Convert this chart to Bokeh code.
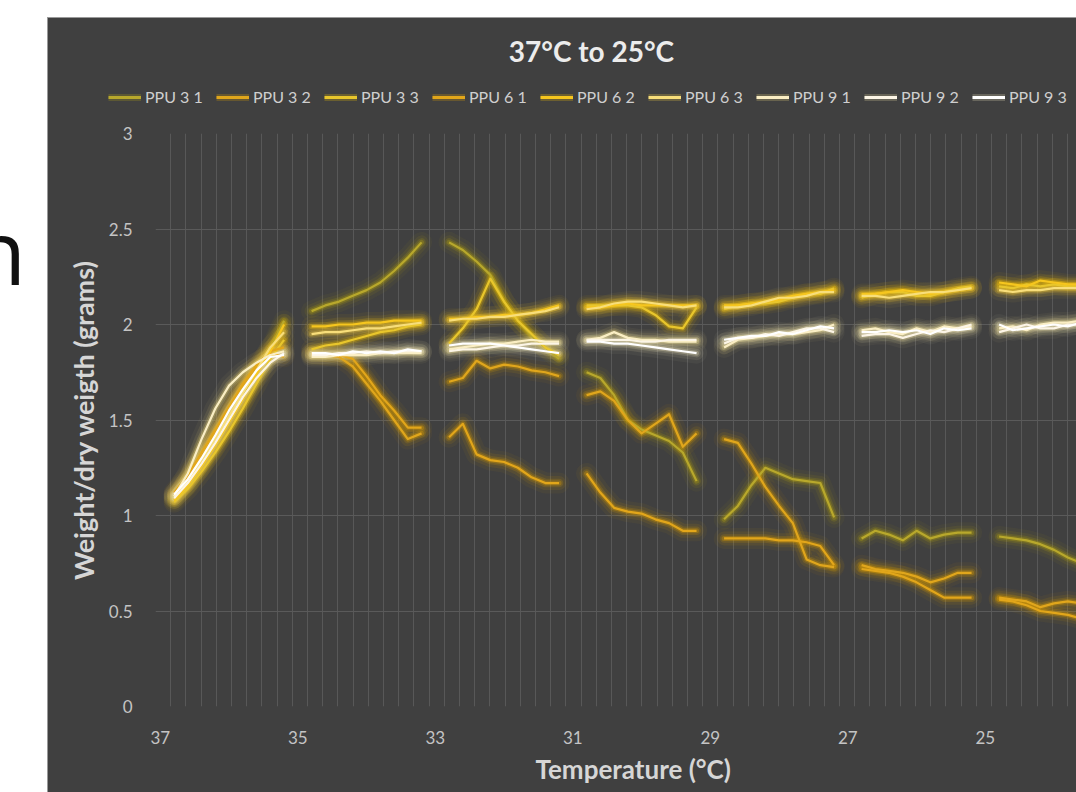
import numpy as np
from bokeh.plotting import figure
from bokeh.models import (Range1d, FixedTicker, NumeralTickFormatter, Legend, LegendItem,
                          Label, Title, Spacer, Div)
from bokeh.layouts import column, row
from bokeh.embed import file_html
from bokeh.resources import INLINE

nan = float("nan")

# ---------------- data ----------------
temp_segments = [
    [36.8, 36.6, 36.4, 36.2, 36.0, 35.8, 35.6, 35.4, 35.2],
    [34.8, 34.6, 34.4, 34.2, 34.0, 33.8, 33.6, 33.4, 33.2],
    [32.8, 32.6, 32.4, 32.2, 32.0, 31.8, 31.6, 31.4, 31.2],
    [30.8, 30.6, 30.4, 30.2, 30.0, 29.8, 29.6, 29.4, 29.2],
    [28.8, 28.6, 28.4, 28.2, 28.0, 27.8, 27.6, 27.4, 27.2],
    [26.8, 26.6, 26.4, 26.2, 26.0, 25.8, 25.6, 25.4, 25.2],
    [24.8, 24.6, 24.4, 24.2, 24.0, 23.8, 23.6],
]

ppu_3_1 = [
    [1.09, 1.17, 1.28, 1.39, 1.51, 1.63, 1.75, 1.87, 2.02],
    [2.07, 2.10, 2.12, 2.15, 2.18, 2.22, 2.28, 2.35, 2.43],
    [2.43, 2.39, 2.33, 2.26, 2.12, 2.02, 1.94, 1.88, 1.82],
    [1.75, 1.72, 1.63, 1.50, 1.45, 1.42, 1.39, 1.33, 1.18],
    [0.98, 1.05, 1.16, 1.25, 1.22, 1.19, 1.18, 1.17, 0.99],
    [0.88, 0.92, 0.90, 0.87, 0.92, 0.88, 0.90, 0.91, 0.91],
    [0.89, 0.88, 0.87, 0.85, 0.82, 0.78, 0.75],
]
ppu_3_2 = [
    [1.11, 1.20, 1.31, 1.43, 1.56, 1.68, 1.78, 1.85, 1.83],
    [1.85, 1.84, 1.83, 1.78, 1.69, 1.60, 1.50, 1.40, 1.43],
    [1.70, 1.72, 1.81, 1.77, 1.79, 1.78, 1.76, 1.75, 1.73],
    [1.63, 1.65, 1.60, 1.50, 1.43, 1.48, 1.53, 1.36, 1.43],
    [1.40, 1.38, 1.27, 1.15, 1.05, 0.96, 0.77, 0.74, 0.73],
    [0.74, 0.72, 0.71, 0.70, 0.68, 0.65, 0.67, 0.70, 0.70],
    [0.57, 0.56, 0.55, 0.52, 0.54, 0.55, 0.54],
]
ppu_3_3 = [
    [1.07, 1.14, 1.23, 1.33, 1.44, 1.56, 1.69, 1.82, 1.92],
    [1.87, 1.89, 1.90, 1.92, 1.94, 1.96, 1.97, 1.99, 2.00],
    [1.90, 1.98, 2.08, 2.24, 2.12, 2.02, 1.95, 1.88, 1.84],
    [2.10, 2.10, 2.10, 2.10, 2.09, 2.05, 1.99, 1.98, 2.09],
    [2.08, 2.10, 2.11, 2.11, 2.12, 2.14, 2.16, 2.16, 2.19],
    [2.14, 2.16, 2.17, 2.17, 2.15, 2.15, 2.17, 2.19, 2.20],
    [2.20, 2.19, 2.21, 2.20, 2.21, 2.20, 2.20],
]
ppu_6_1 = [
    [1.12, 1.21, 1.33, 1.45, 1.57, 1.69, 1.79, 1.86, 1.88],
    [1.84, 1.84, 1.84, 1.82, 1.73, 1.63, 1.55, 1.46, 1.46],
    [1.41, 1.48, 1.32, 1.29, 1.28, 1.25, 1.20, 1.17, 1.17],
    [1.22, 1.12, 1.04, 1.02, 1.01, 0.98, 0.96, 0.92, 0.92],
    [0.88, 0.88, 0.88, 0.88, 0.87, 0.87, 0.86, 0.84, 0.74],
    [0.72, 0.71, 0.70, 0.68, 0.65, 0.61, 0.57, 0.57, 0.57],
    [0.56, 0.55, 0.53, 0.50, 0.49, 0.48, 0.46],
]
ppu_6_2 = [
    [1.08, 1.16, 1.26, 1.37, 1.49, 1.61, 1.74, 1.86, 2.00],
    [1.99, 1.99, 2.00, 2.00, 2.01, 2.01, 2.02, 2.02, 2.02],
    [2.03, 2.03, 2.04, 2.04, 2.05, 2.05, 2.06, 2.08, 2.10],
    [2.09, 2.09, 2.10, 2.11, 2.10, 2.10, 2.10, 2.10, 2.10],
    [2.10, 2.10, 2.11, 2.12, 2.13, 2.15, 2.16, 2.17, 2.18],
    [2.16, 2.16, 2.17, 2.18, 2.17, 2.16, 2.17, 2.18, 2.19],
    [2.22, 2.21, 2.20, 2.23, 2.22, 2.21, 2.21],
]
ppu_6_3 = [
    [1.10, 1.18, 1.29, 1.40, 1.52, 1.64, 1.76, 1.88, 1.96],
    [1.95, 1.96, 1.96, 1.97, 1.98, 1.98, 1.99, 2.00, 2.01],
    [2.02, 2.03, 2.03, 2.04, 2.04, 2.05, 2.06, 2.07, 2.09],
    [2.08, 2.09, 2.11, 2.12, 2.12, 2.11, 2.10, 2.09, 2.10],
    [2.09, 2.09, 2.10, 2.12, 2.14, 2.14, 2.15, 2.17, 2.17],
    [2.15, 2.15, 2.14, 2.15, 2.16, 2.17, 2.17, 2.18, 2.19],
    [2.18, 2.17, 2.18, 2.18, 2.19, 2.19, 2.19],
]
ppu_9_1 = [
    [1.10, 1.22, 1.40, 1.56, 1.68, 1.75, 1.80, 1.84, 1.86],
    [1.83, 1.83, 1.84, 1.84, 1.84, 1.85, 1.85, 1.85, 1.85],
    [1.87, 1.88, 1.89, 1.90, 1.90, 1.91, 1.92, 1.91, 1.91],
    [1.92, 1.93, 1.96, 1.93, 1.92, 1.92, 1.91, 1.91, 1.91],
    [1.88, 1.92, 1.93, 1.94, 1.95, 1.95, 1.96, 1.97, 2.00],
    [1.97, 1.98, 1.96, 1.95, 1.98, 1.96, 1.99, 1.98, 1.99],
    [1.98, 1.99, 1.97, 2.00, 2.01, 2.01, 2.02],
]
ppu_9_2 = [
    [1.09, 1.17, 1.27, 1.38, 1.50, 1.62, 1.72, 1.80, 1.85],
    [1.84, 1.84, 1.85, 1.85, 1.86, 1.85, 1.86, 1.86, 1.86],
    [1.86, 1.87, 1.87, 1.88, 1.89, 1.89, 1.90, 1.90, 1.90],
    [1.92, 1.92, 1.92, 1.92, 1.91, 1.91, 1.92, 1.92, 1.92],
    [1.90, 1.93, 1.93, 1.95, 1.94, 1.96, 1.98, 1.98, 1.96],
    [1.94, 1.95, 1.95, 1.93, 1.95, 1.97, 1.96, 1.98, 2.00],
    [1.96, 1.98, 2.00, 1.98, 1.98, 2.00, 2.00],
]
ppu_9_3 = [
    [1.11, 1.19, 1.30, 1.42, 1.55, 1.66, 1.76, 1.83, 1.84],
    [1.85, 1.85, 1.84, 1.86, 1.85, 1.86, 1.85, 1.87, 1.86],
    [1.89, 1.90, 1.90, 1.90, 1.89, 1.88, 1.87, 1.86, 1.85],
    [1.91, 1.91, 1.90, 1.90, 1.89, 1.88, 1.87, 1.86, 1.85],
    [1.92, 1.93, 1.94, 1.94, 1.96, 1.95, 1.97, 1.99, 1.98],
    [1.96, 1.96, 1.97, 1.96, 1.97, 1.95, 1.98, 1.97, 1.98],
    [2.00, 1.97, 1.98, 1.99, 2.00, 1.99, 2.01],
]

series_names = ["PPU 3 1", "PPU 3 2", "PPU 3 3", "PPU 6 1", "PPU 6 2",
                "PPU 6 3", "PPU 9 1", "PPU 9 2", "PPU 9 3"]
series_values = [ppu_3_1, ppu_3_2, ppu_3_3, ppu_6_1, ppu_6_2, ppu_6_3,
                 ppu_9_1, ppu_9_2, ppu_9_3]
x_tick_values = [37, 35, 33, 31, 29, 27, 25]
y_tick_values = [0, 0.5, 1, 1.5, 2, 2.5, 3]

# ---------------- style ----------------
core_colors = ["#b8a82c", "#e0a61c", "#e8c62c", "#e2a61a", "#f6c61e",
               "#f8de7a", "#faeec4", "#fcf5e6", "#ffffff"]
glow_colors = ["#b0a010", "#d89a00", "#e8bc00", "#da9c00", "#f0bc00",
               "#ecc840", "#e0cc78", "#dcd09a", "#e0d8b4"]
BG = "#404040"
GRID = "#585858"
TXT = "#d6d6d6"
FONT = "Lato"


def join(segs):
    out = []
    for i, s in enumerate(segs):
        if i:
            out.append(nan)
        out.extend(s)
    return out


temps = join(temp_segments)

# ---------------- header (title + legend) ----------------
hdr = figure(width=1028, height=105, x_range=Range1d(0, 1028), y_range=Range1d(0, 105),
             toolbar_location=None, output_backend="svg", x_axis_location=None,
             y_axis_location=None, min_border=0, min_border_left=0, min_border_right=0,
             min_border_top=0, min_border_bottom=0)
if "frame_align" in hdr.properties():
    hdr.frame_align = False
hdr.background_fill_color = BG
hdr.border_fill_color = BG
hdr.outline_line_color = None
for g in list(hdr.center):
    g.visible = False
hdr.xgrid.grid_line_color = None
hdr.ygrid.grid_line_color = None

hdr.add_layout(Label(x=543, y=73, text="37°C to 25°C", text_align="center",
                     text_baseline="middle", text_font=FONT, text_font_style="bold",
                     text_font_size="28px", text_color="#ececec"))

items = []
for name, c, g in zip(series_names, core_colors, glow_colors):
    rg = hdr.line(x=[-50, -40], y=[-50, -50], line_color=g, line_width=7, line_alpha=0.25)
    rc = hdr.line(x=[-50, -40], y=[-50, -50], line_color=c, line_width=3)
    items.append(LegendItem(label=name, renderers=[rg, rc]))
legend = Legend(items=items, location=(60, 17), orientation="horizontal",
                glyph_width=33, glyph_height=16, label_standoff=4, label_width=60,
                spacing=11, padding=0, margin=0, border_line_alpha=0,
                background_fill_alpha=0, label_text_font=FONT,
                label_text_font_size="16px", label_text_color="#cfcfcf")
hdr.add_layout(legend)

# ---------------- main chart ----------------
p = figure(width=1028, height=669, x_range=Range1d(37.07, 23.674), y_range=Range1d(0, 3),
           toolbar_location=None, output_backend="svg", min_border_left=107,
           min_border_right=0, min_border_top=10, min_border_bottom=86)
if "frame_align" in p.properties():
    p.frame_align = False
p.background_fill_color = BG
p.border_fill_color = BG
p.outline_line_color = None

p.xgrid.ticker = FixedTicker(ticks=list(np.arange(37.07, 23.6, -0.2211)))
p.xgrid.grid_line_color = GRID
p.ygrid.ticker = FixedTicker(ticks=[0.5, 1, 1.5, 2, 2.5, 3])
p.ygrid.grid_line_color = "#5a5a5a"

for ax in (p.xaxis[0], p.yaxis[0]):
    ax.axis_line_color = None
    ax.major_tick_line_color = None
    ax.minor_tick_line_color = None
    ax.major_tick_out = 0
    ax.major_tick_in = 0
    ax.major_label_text_color = "#c4c4c4"
    ax.major_label_text_font = FONT
    ax.major_label_text_font_size = "17px"

p.xaxis.ticker = FixedTicker(ticks=x_tick_values)
p.xaxis.major_label_standoff = 24
p.yaxis.ticker = FixedTicker(ticks=y_tick_values)
p.yaxis.formatter = NumeralTickFormatter(format="0.[0]")
p.yaxis.major_label_standoff = 23
p.yaxis.axis_label = "Weight/dry weigth (grams)"
p.yaxis.axis_label_text_font = FONT
p.yaxis.axis_label_text_font_style = "bold"
p.yaxis.axis_label_text_font_size = "27px"
p.yaxis.axis_label_text_color = TXT
p.yaxis.axis_label_standoff = 6

p.add_layout(Title(text="Temperature (°C)", align="left", offset=380,
                   text_font=FONT, text_font_style="bold", text_font_size="26px",
                   text_color=TXT, standoff=9), "below")

# glow layers first, then the core lines
for vals, g in zip(series_values, glow_colors):
    ys = join(vals)
    for w, a in ((21, 0.055), (14, 0.10), (8.5, 0.18), (5, 0.32)):
        p.line(temps, ys, line_color=g, line_width=w, line_alpha=a,
               line_join="round", line_cap="round")
for vals, c in zip(series_values, core_colors):
    p.line(temps, join(vals), line_color=c, line_width=2.2, line_join="round")

side = Div(width=48, height=792, margin=0, text=(
    "<div style='position:relative;width:48px;height:792px;overflow:hidden;background:#ffffff'>"
    "<span style=\"position:absolute;left:-29px;top:205px;font-family:'Open Sans';"
    "font-size:90px;line-height:1;color:#111111\">n</span></div>"))

panel = column(hdr, p, styles={"background-color": BG, "outline": "1px solid #9a9a9a"})
charts = column(Spacer(height=18), panel)
layout = row(side, charts)

open("out.html", "w").write(file_html(layout, INLINE))
